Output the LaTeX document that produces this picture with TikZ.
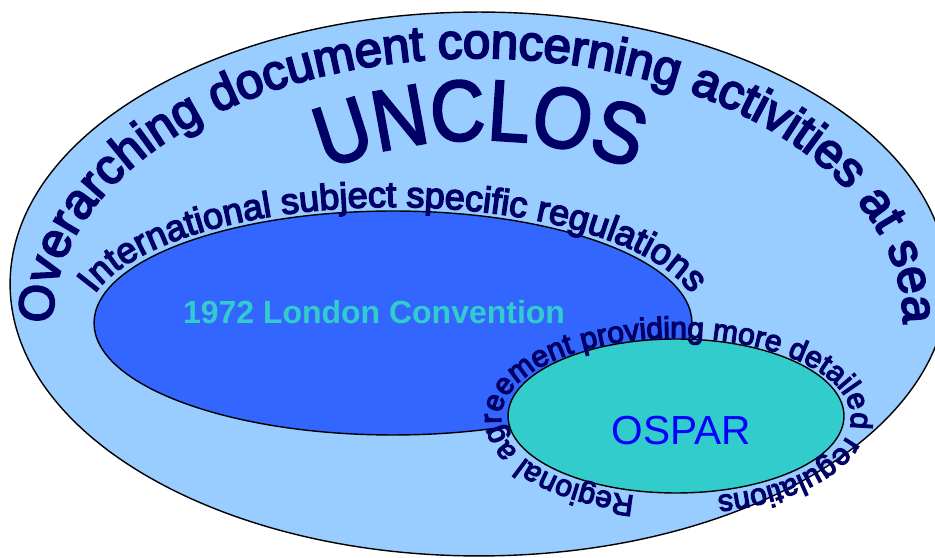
\documentclass[tikz,border=0pt]{standalone}
\usepackage{fontspec}
\setmainfont{Liberation Sans}
\newfontfamily\wordart[FakeBold=4]{Liberation Sans}
\newfontfamily\wordtall[FakeBold=2.5,FakeStretch=0.88]{Liberation Sans}
\usetikzlibrary{shapes.geometric,decorations.text}
\definecolor{unclosblue}{HTML}{99CCFF}
\definecolor{londonblue}{HTML}{3366FF}
\definecolor{ospargreen}{HTML}{33CCCC}
\definecolor{osparblue}{HTML}{0000FF}
\definecolor{wordnavy}{HTML}{000066}

\begin{document}
\begin{tikzpicture}[x=0.02cm, y=0.02cm,
  region/.style={ellipse, draw=black, line width=0.8pt, inner sep=0pt},
  arched/.style={decorate, decoration={text along path, text align=center,
      text color=wordnavy}}]
\clip (0,0) rectangle (935,557);

\node[region, fill=unclosblue, minimum width=18.76cm, minimum height=10.88cm] (unclos) at (479,273) {};
\node[region, fill=londonblue, minimum width=11.96cm, minimum height=4.48cm] (london) at (393,234) {};
\node[region, fill=ospargreen, minimum width=6.72cm, minimum height=3.08cm] (ospar) at (676,141) {};

\node[font=\fontsize{18.2}{20}\selectfont\bfseries, text=ospargreen] (londonlabel) at (374,245) {1972 London Convention};
\node[font=\fontsize{23.1}{25}\selectfont, text=osparblue] (osparlabel) at (681,126) {OSPAR};

\path[arched, decoration={text={|\wordart\fontsize{28}{30}\selectfont|Overarching document concerning activities at sea}}]
  ([shift={(186:425 and 262)}]478,237) arc[start angle=186, end angle=-6, x radius=425, y radius=262];
\path[arched, decoration={text={|\wordtall\fontsize{49}{52}\selectfont|UNCLOS}}]
  ([shift={(115:420)}]480,-3) arc[start angle=115, end angle=65, radius=420];
\path[arched, decoration={text={|\wordart\fontsize{20.5}{22}\selectfont|International subject specific regulations}}]
  ([shift={(172:308 and 116)}]london.center) arc[start angle=172, end angle=8, x radius=308, y radius=116];
\path[arched, decoration={text={|\wordart\fontsize{17.1}{19}\selectfont|Regional agreement providing more detailed regulations}}]
  ([shift={(270:175 and 80)}]676,139) arc[start angle=270, end angle=-90, x radius=175, y radius=80];
\end{tikzpicture}
\end{document}
